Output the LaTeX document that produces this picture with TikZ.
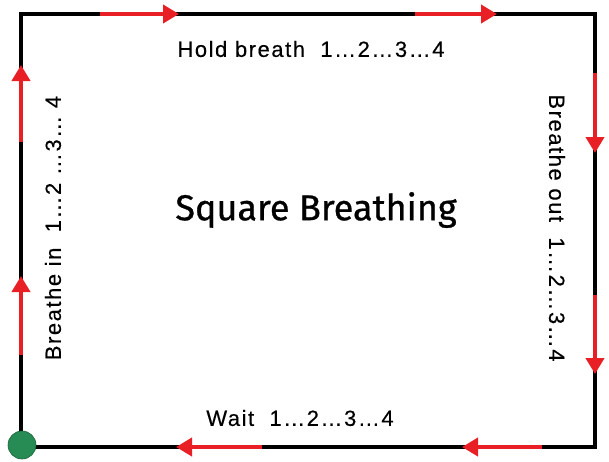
\documentclass[tikz,border=0pt]{standalone}
\usepackage{fontspec}
\setmainfont{Liberation Sans}[LetterSpace=7, FakeBold=0.3]
\newfontfamily\titlefont{Fira Sans}[FakeBold=0.8]
\usepackage{tikz}
\usetikzlibrary{arrows.meta,positioning,calc}
\definecolor{arrowred}{RGB}{232,32,38}
\definecolor{startgreen}{RGB}{38,140,84}
\tikzstyle{side}  =[line width=4.5pt, black, line cap=rect]
\tikzstyle{flow}  =[line width=4.5pt, arrowred,
                    -{Triangle[length=16pt,width=18pt]}]
\tikzstyle{count} =[inner sep=0pt, font=\fontsize{22}{26}\selectfont]
\tikzstyle{start} =[circle, fill=startgreen, draw=startgreen!70!black,
                    line width=0.6pt, minimum size=28pt, inner sep=0pt]

\begin{document}
\begin{tikzpicture}[x=1pt, y=-1pt]
            \useasboundingbox (0,0) rectangle (609,461);
            \begin{scope}
                % corners of the square
                \coordinate (tl) at (21,14);
                \coordinate (tr) at (595,14);
                \coordinate (br) at (595,447);
                \coordinate (bl) at (21,447);
                \draw[side] (tl) -- (tr) -- (br) -- (bl) -- cycle;
                % arrow ends
                \coordinate (t1) at (100,14);  \coordinate (t2) at (179,14);
                \coordinate (t3) at (415,14);  \coordinate (t4) at (497,14);
                \coordinate (r1) at (595,73);  \coordinate (r2) at (595,153);
                \coordinate (r3) at (595,295); \coordinate (r4) at (595,374);
                \coordinate (b1) at (542,447); \coordinate (b2) at (462,447);
                \coordinate (b3) at (262,447); \coordinate (b4) at (176,447);
                \coordinate (l1) at (21,355);  \coordinate (l2) at (21,276);
                \coordinate (l3) at (21,142);  \coordinate (l4) at (21,65);
                \draw[flow] (t1) -- (t2);
                \draw[flow] (t3) -- (t4);
                \draw[flow] (r1) -- (r2);
                \draw[flow] (r3) -- (r4);
                \draw[flow] (b1) -- (b2);
                \draw[flow] (b3) -- (b4);
                \draw[flow] (l1) -- (l2);
                \draw[flow] (l3) -- (l4);
                \node (s) [start] at (22,445) {};
                % labels
                \node (hold) [count] at (311,49) {Hold breath\ \ 1…2…3…4};
                \node (out) [count, rotate=-90] at (557,228) {Breathe out\ \ 1…2…3…4};
                \node (wait) [count] at (300,418) {Wait\ \ 1…2…3…4};
                \node (in) [count, rotate=90] at (53,228) {Breathe in\ \ 1…2 …3… 4};
                \node (title) [inner sep=0pt, font=\titlefont\fontsize{36}{42}\selectfont]
                    at (316,210) {Square Breathing};
            \end{scope}
        \end{tikzpicture}
\end{document}
